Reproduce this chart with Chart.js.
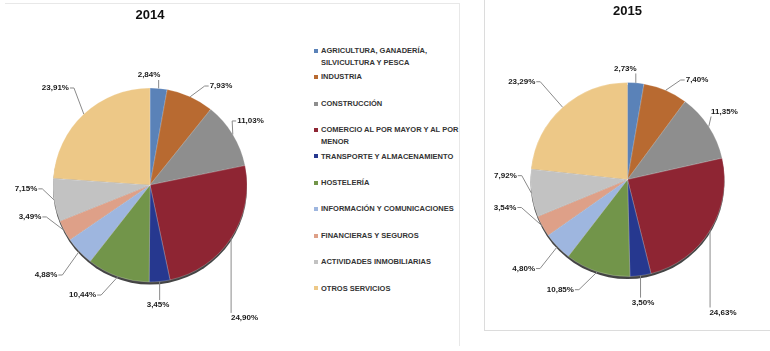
<!DOCTYPE html>
<html>
<head>
<meta charset="utf-8">
<script src="https://cdn.jsdelivr.net/npm/chart.js@4.4.0/dist/chart.umd.min.js"></script>
<style>
    body {
        margin: 0;
        width: 770px;
        height: 351px;
        background: #ffffff;
        position: relative;
        overflow: hidden;
        font-family: 'Liberation Sans', Arial, sans-serif;
    }
    .panel-left {
        position: absolute;
        left: 5px;
        top: 3px;
        width: 454px;
        height: 342px;
        border-top: 1px solid #e8e8e8;
        border-right: 1px solid #e8e8e8;
    }
    .panel-right {
        position: absolute;
        left: 484px;
        top: -1px;
        width: 300px;
        height: 331px;
        border-left: 1px solid #dcdcdc;
        border-bottom: 1px solid #dcdcdc;
    }
    #chart2014 { position: absolute; left: 0; top: 0; }
    #chart2015 { position: absolute; left: 470px; top: 0; }
    #legend {
        position: absolute;
        left: 313px;
        top: 45px;
        margin: 0;
        padding: 0;
        list-style: none;
    }
    #legend li {
        position: relative;
        height: 26.4px;
        padding-left: 8px;
        font-size: 7.5px;
        font-weight: bold;
        line-height: 11.5px;
        color: #333333;
        white-space: nowrap;
    }
    #legend li .box {
        position: absolute;
        left: 1px;
        top: 3.8px;
        width: 4px;
        height: 4px;
    }
</style>
</head>
<body>
<div class="panel-left"></div>
<div class="panel-right"></div>
<canvas id="chart2014" width="300" height="351"></canvas>
<canvas id="chart2015" width="300" height="351"></canvas>
<ul id="legend"></ul>

<script>
const categories = [
    ['AGRICULTURA, GANADERÍA,', 'SILVICULTURA Y PESCA'],
    ['INDUSTRIA'],
    ['CONSTRUCCIÓN'],
    ['COMERCIO AL POR MAYOR Y AL POR', 'MENOR'],
    ['TRANSPORTE Y ALMACENAMIENTO'],
    ['HOSTELERÍA'],
    ['INFORMACIÓN Y COMUNICACIONES'],
    ['FINANCIERAS Y SEGUROS'],
    ['ACTIVIDADES INMOBILIARIAS'],
    ['OTROS SERVICIOS']
];

const values2014 = [2.84, 7.93, 11.03, 24.90, 3.45, 10.44, 4.88, 3.49, 7.15, 23.91];
const values2015 = [2.73, 7.40, 11.35, 24.63, 3.50, 10.85, 4.80, 3.54, 7.92, 23.29];

const sliceColors = [
    '#5a82b8', '#b86a31', '#8e8e8e', '#8e2533', '#26388f',
    '#72954a', '#9eb6df', '#dea088', '#c2c2c2', '#edc887'
];

// where each value label sits, relative to the middle of its slice edge (px)
const labelShift2014 = [
    [-9.6, -13.4], [30.8, -10.7], [17.7, -13.5], [13.4, 79.7], [-1.6, 23.5],
    [-35.4, 18.5], [-33.2, 23.7], [-34.4, -13.7], [-28.2, -11.2], [-28.4, -26.1]
];
const labelShift2015 = [
    [-10.5, -14.4], [31.4, -10.3], [15.7, -15], [12.9, 82.1], [2.5, 27],
    [-37, 18], [-33.7, 22], [-37.4, -18.6], [-26, -17.5], [-41, -25.6]
];

const FONT = "'Liberation Sans', Arial, sans-serif";

// dark rim under the pie (the 3D edge in the original)
const rimPlugin = {
    id: 'pieRim',
    beforeDatasetsDraw(chart) {
        const arc = chart.getDatasetMeta(0).data[0];
        if (!arc) return;
        const p = arc.getProps(['x', 'y', 'outerRadius'], true);
        const ctx = chart.ctx;
        ctx.save();
        ctx.fillStyle = 'rgba(35, 35, 35, 0.85)';
        ctx.beginPath();
        ctx.arc(p.x, p.y + 2.5, p.outerRadius, 0, Math.PI * 2);
        ctx.fill();
        ctx.restore();
    }
};

// percentage labels with leader lines
const labelPlugin = {
    id: 'pieLabels',
    afterDatasetsDraw(chart, args, opts) {
        const ctx = chart.ctx;
        const meta = chart.getDatasetMeta(0);
        const data = chart.data.datasets[0].data;
        ctx.save();
        ctx.font = 'bold 8px ' + FONT;
        ctx.textAlign = 'center';
        ctx.textBaseline = 'middle';
        ctx.strokeStyle = '#8a8a8a';
        ctx.lineWidth = 1;
        meta.data.forEach((arc, i) => {
            const p = arc.getProps(['x', 'y', 'startAngle', 'endAngle', 'outerRadius'], true);
            const mid = (p.startAngle + p.endAngle) / 2;
            const ex = p.x + Math.cos(mid) * p.outerRadius;
            const ey = p.y + Math.sin(mid) * p.outerRadius;
            const tx = ex + opts.shift[i][0];
            const ty = ey + opts.shift[i][1];
            const text = data[i].toFixed(2).replace('.', ',') + '%';
            const w = ctx.measureText(text).width;

            ctx.beginPath();
            ctx.moveTo(ex, ey);
            if (Math.abs(ex - tx) < w / 2 + 3) {
                const lx = Math.min(Math.max(ex, tx - w / 2), tx + w / 2);
                ctx.lineTo(lx, ey < ty ? ty - 5 : ty + 5);
            } else {
                const sx = ex < tx ? tx - w / 2 - 1 : tx + w / 2 + 1;
                const bend = ex < tx ? sx - 4 : sx + 4;
                ctx.lineTo(bend, ty);
                ctx.lineTo(sx, ty);
            }
            ctx.stroke();

            ctx.fillStyle = '#1a1a1a';
            ctx.fillText(text, tx, ty);
        });
        ctx.restore();
    }
};

function makePie(canvasId, year, values, shift, titlePadTop, pad) {
    const ctx = document.getElementById(canvasId).getContext('2d');
    return new Chart(ctx, {
        type: 'pie',
        data: {
            labels: categories,
            datasets: [{
                data: values,
                backgroundColor: sliceColors,
                borderColor: 'rgba(255, 255, 255, 0.45)',
                borderWidth: 0.5,
                hoverOffset: 0
            }]
        },
        options: {
            responsive: false,
            animation: false,
            radius: 97,
            layout: { padding: pad, autoPadding: false },
            plugins: {
                legend: { display: false },
                tooltip: { enabled: false },
                title: {
                    display: true,
                    text: year,
                    color: '#111111',
                    font: { family: FONT, size: 13, weight: 'bold' },
                    padding: { top: titlePadTop, bottom: 10 }
                },
                pieLabels: { shift: shift }
            }
        },
        plugins: [rimPlugin, labelPlugin]
    });
}

function buildLegend() {
    const ul = document.getElementById('legend');
    categories.forEach((lines, i) => {
        const li = document.createElement('li');
        const box = document.createElement('span');
        box.className = 'box';
        box.style.background = sliceColors[i];
        li.appendChild(box);
        lines.forEach((line, k) => {
            if (k > 0) li.appendChild(document.createElement('br'));
            li.appendChild(document.createTextNode(line));
        });
        ul.appendChild(li);
    });
}

makePie('chart2014', '2014', values2014, labelShift2014, 8, { left: 0, right: 0, top: 0, bottom: 14.6 });
makePie('chart2015', '2015', values2015, labelShift2015, 4, { left: 15, right: 0, top: 0, bottom: 21.6 });
buildLegend();
</script>
</body>
</html>
